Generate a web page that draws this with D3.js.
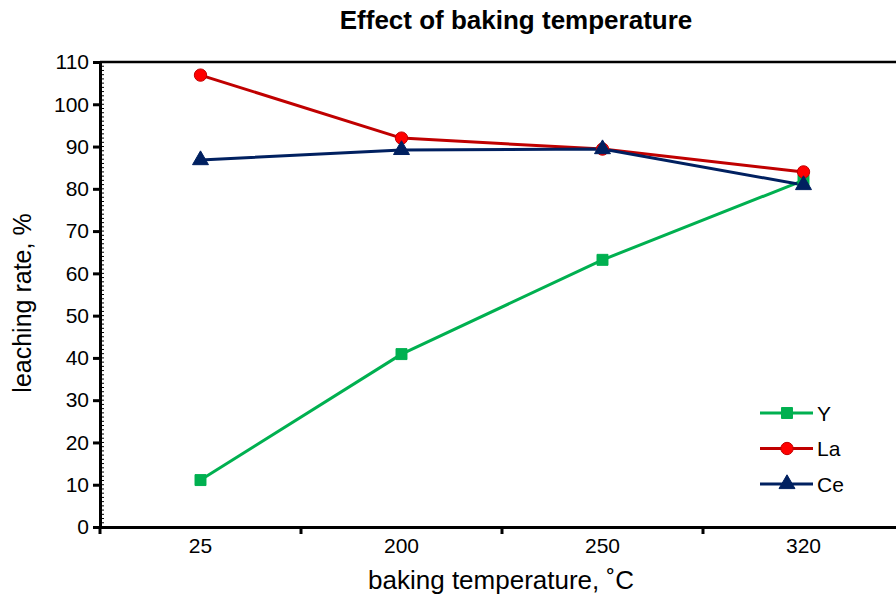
<!DOCTYPE html>
<html>
<head>
<meta charset="utf-8">
<script src="https://cdn.jsdelivr.net/npm/d3@7"></script>
<style>
  body { margin: 0; background: #fff; }
  text { font-family: "Liberation Sans", Arial, sans-serif; }
</style>
</head>
<body>
<svg width="896" height="596"></svg>
<script>
const temps = ['25', '200', '250', '320'];
const yVals = [11.1, 40.9, 63.2, 82.0];
const laVals = [106.9, 92.0, 89.4, 84.0];
const ceVals = [86.8, 89.2, 89.4, 80.9];
const yTicks = [0, 10, 20, 30, 40, 50, 60, 70, 80, 90, 100, 110];

const series = [
  {name: 'Y', values: yVals, line: '#00B050', fill: '#00B050', shape: d3.symbolSquare},
  {name: 'La', values: laVals, line: '#C00000', fill: '#FF0000', shape: d3.symbolCircle},
  {name: 'Ce', values: ceVals, line: '#002060', fill: '#002060', shape: d3.symbolTriangle}
];

const svg = d3.select('svg'),
      margin = {top: 62, right: -8, bottom: 69, left: 100},
      width = +svg.attr('width') - margin.left - margin.right,
      height = +svg.attr('height') - margin.top - margin.bottom,
      g = svg.append('g').attr('transform', `translate(${margin.left}, ${margin.top})`);

const x = d3.scaleBand()
  .domain(temps)
  .range([0, width]);

const y = d3.scaleLinear()
  .domain([0, 110])
  .range([height, 0]);

const markSize = s => s.shape === d3.symbolTriangle ? 110 : 120;

// top border
g.append('line')
  .attr('x1', 0).attr('x2', width)
  .attr('y1', 0).attr('y2', 0)
  .attr('stroke', '#000').attr('stroke-width', 2.5);

// minor ticks, inward
g.append('g').selectAll('line')
  .data(d3.range(0, 110, 1))
  .enter().append('line')
    .attr('x1', 0).attr('x2', 4)
    .attr('y1', d => y(d)).attr('y2', d => y(d))
    .attr('stroke', '#000').attr('stroke-width', 1);

// y axis
const yAxis = g.append('g')
  .call(d3.axisLeft(y).tickValues(yTicks).tickSize(7).tickPadding(4));
yAxis.select('.domain').attr('stroke-width', 3);
yAxis.selectAll('.tick line').attr('stroke-width', 3);
yAxis.selectAll('text').attr('font-size', 21).attr('fill', '#000');

// x axis
const xAxis = g.append('g')
  .attr('transform', `translate(0, ${height})`)
  .call(d3.axisBottom(x).tickSize(0).tickPadding(8));
xAxis.select('.domain').attr('stroke-width', 3);
xAxis.selectAll('text').attr('font-size', 21).attr('fill', '#000').attr('dy', '0.85em');

// category boundary ticks
g.append('g').selectAll('line')
  .data(temps)
  .enter().append('line')
    .attr('x1', d => x(d)).attr('x2', d => x(d))
    .attr('y1', height).attr('y2', height + 7)
    .attr('stroke', '#000').attr('stroke-width', 3);

const cx = i => x(temps[i]) + x.bandwidth() / 2;

const line = d3.line()
  .x((v, i) => cx(i))
  .y(v => y(v));

series.forEach(s => {
  g.append('path')
    .datum(s.values)
    .attr('fill', 'none')
    .attr('stroke', s.line)
    .attr('stroke-width', 3)
    .attr('stroke-linejoin', 'round')
    .attr('d', line);
});

series.forEach(s => {
  g.append('g').selectAll('path')
    .data(s.values)
    .enter().append('path')
      .attr('transform', (v, i) => `translate(${cx(i)}, ${y(v)})`)
      .attr('d', d3.symbol().type(s.shape).size(markSize(s)))
      .attr('fill', s.fill)
      .attr('stroke', s.line)
      .attr('stroke-width', 1);
});

// legend
const legend = svg.append('g')
  .attr('transform', 'translate(760, 413)');
series.forEach((s, i) => {
  const row = legend.append('g').attr('transform', `translate(0, ${i * 35.5})`);
  row.append('line')
    .attr('x1', 0).attr('x2', 53)
    .attr('stroke', s.line).attr('stroke-width', 3);
  row.append('path')
    .attr('transform', 'translate(27, 0)')
    .attr('d', d3.symbol().type(s.shape).size(markSize(s)))
    .attr('fill', s.fill)
    .attr('stroke', s.line)
    .attr('stroke-width', 1);
  row.append('text')
    .attr('x', 57)
    .attr('dy', '0.36em')
    .attr('font-size', 21)
    .text(s.name);
});

// title and axis labels
svg.append('text')
  .attr('x', 516).attr('y', 29)
  .attr('text-anchor', 'middle')
  .attr('font-size', 26)
  .attr('font-weight', 'bold')
  .text('Effect of baking temperature');

svg.append('text')
  .attr('transform', 'translate(31, 303) rotate(-90)')
  .attr('text-anchor', 'middle')
  .attr('font-size', 25)
  .text('leaching rate, %');

svg.append('text')
  .attr('x', 501).attr('y', 589)
  .attr('text-anchor', 'middle')
  .attr('font-size', 26)
  .text('baking temperature, ˚C');
</script>
</body>
</html>
